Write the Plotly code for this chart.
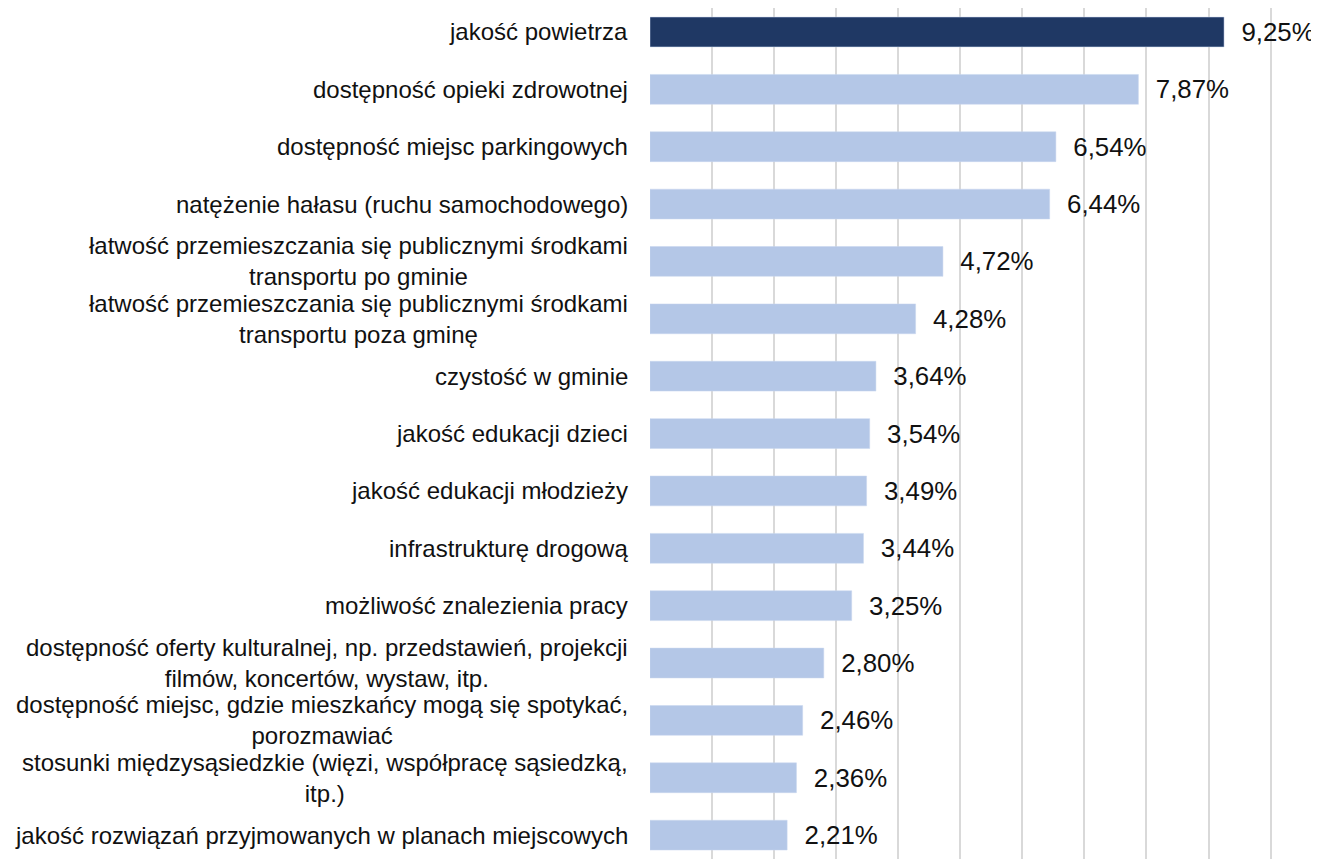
import plotly.graph_objects as go

# --- DATA ---
categories = [
    "jakość powietrza",
    "dostępność opieki zdrowotnej",
    "dostępność miejsc parkingowych",
    "natężenie hałasu (ruchu samochodowego)",
    "łatwość przemieszczania się publicznymi środkami<br>transportu po gminie",
    "łatwość przemieszczania się publicznymi środkami<br>transportu poza gminę",
    "czystość w gminie",
    "jakość edukacji dzieci",
    "jakość edukacji młodzieży",
    "infrastrukturę drogową",
    "możliwość znalezienia pracy",
    "dostępność oferty kulturalnej, np. przedstawień, projekcji<br>filmów, koncertów, wystaw, itp.",
    "dostępność miejsc, gdzie mieszkańcy mogą się spotykać,<br>porozmawiać",
    "stosunki międzysąsiedzkie (więzi, współpracę sąsiedzką,<br>itp.)",
    "jakość rozwiązań przyjmowanych w planach miejscowych",
]
values = [9.25, 7.87, 6.54, 6.44, 4.72, 4.28, 3.64, 3.54, 3.49, 3.44, 3.25, 2.80, 2.46, 2.36, 2.21]
# ------------

FONT = "Liberation Sans, Arial, sans-serif"
DARK = "#1f3864"
LIGHT = "#b4c7e7"

colors = [DARK] + [LIGHT] * (len(values) - 1)
labels = ["\u00a0\u00a0" + f"{v:.2f}".replace(".", ",") + "%" for v in values]
positions = list(range(len(categories)))

fig = go.Figure()
fig.add_trace(go.Bar(
    x=values,
    y=positions,
    orientation="h",
    width=0.52,
    marker=dict(color=colors, line=dict(color="#c9d6ee", width=0.5)),
    text=labels,
    textposition="outside",
    textfont=dict(family=FONT, size=26, color="#111111"),
    cliponaxis=False,
    hoverinfo="skip",
))

# category labels as annotations so multi-line labels stay centred
for pos, cat in zip(positions, categories):
    fig.add_annotation(
        x=0, xref="paper", y=pos, yref="y",
        text=cat, showarrow=False,
        xanchor="right", yanchor="middle", align="center",
        xshift=-20,
        font=dict(family=FONT, size=24, color="#111111"),
    )

# page body has an 8px margin, so the figure is a bit smaller than the window
fig.update_layout(
    width=1311,
    height=851,
    margin=dict(l=642, r=0, t=0, b=0),
    plot_bgcolor="white",
    paper_bgcolor="white",
    showlegend=False,
    xaxis=dict(
        range=[0, 10.78],
        dtick=1,
        showgrid=True,
        gridcolor="#d9d9d9",
        gridwidth=1.5,
        zeroline=False,
        showticklabels=False,
        showline=False,
        fixedrange=True,
    ),
    yaxis=dict(
        range=[14.416, -0.418],
        showticklabels=False,
        showgrid=False,
        zeroline=False,
        showline=False,
        fixedrange=True,
    ),
)

fig.write_html("out.html")
